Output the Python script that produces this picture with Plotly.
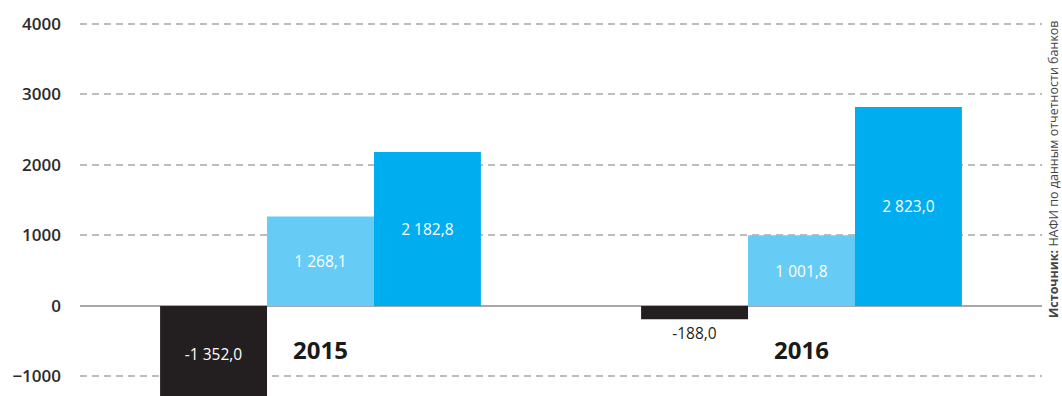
import plotly.graph_objects as go

# Categories and series values (млн руб.)
years = ["2015", "2016"]
series_dark = [-1352.0, -188.0]
series_light = [1268.1, 1001.8]
series_blue = [2182.8, 2823.0]

y_ticks = [-1000, 0, 1000, 2000, 3000, 4000]
source_bold = "Источник:"
source_text = "НАФИ по данным отчетности банков"

FONT = "Open Sans"
LABEL_SIZE = 15.5


def fmt(v):
    # "1 268,1" style: space as thousands separator, comma as decimal mark
    return f"{v:,.1f}".replace(",", " ").replace(".", ",")


fig = go.Figure()

fig.add_trace(go.Bar(
    x=years, y=series_dark, name="dark",
    marker=dict(color="#231f20", line=dict(width=0)),
    text=[fmt(v) for v in series_dark],
    textposition=["inside", "outside"],
    insidetextanchor="middle",
    insidetextfont=dict(family=FONT, size=LABEL_SIZE, color="white"),
    outsidetextfont=dict(family=FONT, size=LABEL_SIZE, color="#231f20"),
    constraintext="none",
))
fig.add_trace(go.Bar(
    x=years, y=series_light, name="light",
    marker=dict(color="#66ccf5", line=dict(width=0)),
    text=[fmt(v) for v in series_light],
    textposition="inside",
    insidetextanchor="middle",
    insidetextfont=dict(family=FONT, size=LABEL_SIZE, color="white"),
    constraintext="none",
))
fig.add_trace(go.Bar(
    x=years, y=series_blue, name="blue",
    marker=dict(color="#00adef", line=dict(width=0)),
    text=[fmt(v) for v in series_blue],
    textposition="inside",
    insidetextanchor="middle",
    insidetextfont=dict(family=FONT, size=LABEL_SIZE, color="white"),
    constraintext="none",
))

# Year labels under the zero line
for i, yr in enumerate(years):
    fig.add_annotation(
        x=i, y=-620, xref="x", yref="y", text=f"<b>{yr}</b>",
        showarrow=False, font=dict(family=FONT, size=24, color="#1a1a1a"),
    )

# Vertical source note on the right edge
fig.add_annotation(
    x=1.0, y=1 - 169 / 396, xref="paper", yref="paper",
    xshift=12, textangle=-90,
    xanchor="center", yanchor="middle",
    text=f"<b>{source_bold}</b> {source_text}",
    showarrow=False, font=dict(family=FONT, size=12.5, color="#444444"),
)

fig.update_layout(
    width=1062, height=396,
    margin=dict(l=80, r=20, t=0, b=0),
    paper_bgcolor="white", plot_bgcolor="white",
    barmode="group", bargap=0.333, bargroupgap=0,
    showlegend=False,
    font=dict(family=FONT),
    xaxis=dict(
        type="category", range=[-0.5, 1.5], showticklabels=False,
        showgrid=False, zeroline=False, showline=False, ticks="",
    ),
    yaxis=dict(
        range=[-1277, 4340], tickvals=y_ticks,
        tickfont=dict(family=FONT, size=17, color="#2b2b2b", weight=600),
        ticklabelstandoff=18,
        showgrid=True, gridcolor="#bdbdbd", gridwidth=1.5, griddash="7px,5px",
        zeroline=True, zerolinecolor="#a8a8a8", zerolinewidth=1.5,
        showline=False, ticks="",
    ),
)

fig.write_html("out.html")
